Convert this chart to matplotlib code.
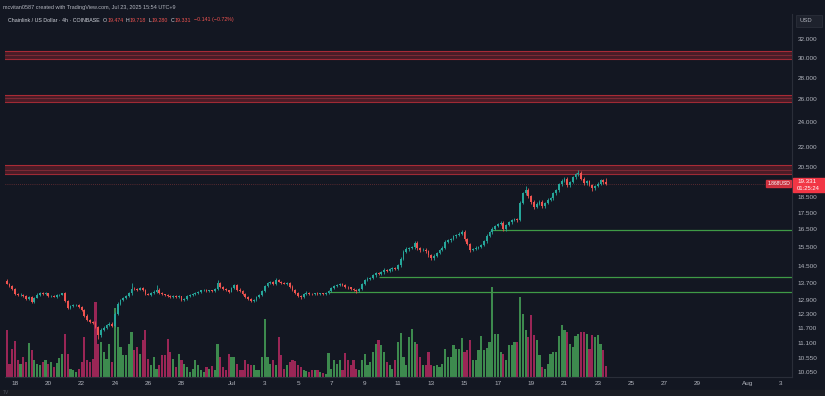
import matplotlib
matplotlib.use("Agg")
import matplotlib.pyplot as plt
import matplotlib.dates as mdates
from matplotlib.patches import Rectangle
from matplotlib.ticker import FixedLocator, NullLocator, NullFormatter
import numpy as np
import pandas as pd

# ---- data (LINK/USD, 4h candles) ----
first_open = 13.78
closes = [
    13.66, 13.55, 13.40, 13.18, 13.12, 13.15, 13.08, 12.95, 13.02, 12.80,
    13.00, 13.15, 13.22, 13.18, 13.20, 13.07, 13.10, 13.05, 13.12, 13.15,
    13.20, 12.85, 12.55, 12.62, 12.66, 12.70, 12.60, 12.45, 12.22, 12.02,
    11.95, 11.92, 11.75, 11.40, 11.62, 11.72, 11.82, 11.88, 11.80, 12.30,
    12.72, 12.88, 12.98, 13.08, 13.20, 13.42, 13.40, 13.38, 13.45, 13.35,
    13.18, 13.15, 13.20, 13.28, 13.38, 13.22, 13.16, 13.12, 13.08, 13.05,
    13.10, 13.04, 13.06, 12.90, 12.95, 13.08, 13.13, 13.18, 13.22, 13.26,
    13.34, 13.36, 13.30, 13.34, 13.32, 13.40, 13.70, 13.52, 13.42, 13.34,
    13.28, 13.45, 13.60, 13.38, 13.30, 13.18, 13.05, 12.95, 12.86, 12.92,
    13.02, 13.12, 13.30, 13.55, 13.68, 13.74, 13.64, 13.84, 13.76, 13.70,
    13.66, 13.68, 13.52, 13.36, 13.22, 13.10, 13.02, 13.16, 13.23, 13.19,
    13.17, 13.20, 13.16, 13.20, 13.17, 13.22, 13.30, 13.45, 13.56, 13.60,
    13.64, 13.60, 13.52, 13.48, 13.42, 13.36, 13.30, 13.40, 13.65, 13.82,
    13.90, 13.95, 14.06, 14.15, 14.12, 14.20, 14.32, 14.28, 14.35, 14.42,
    14.38, 14.55, 14.90, 15.25, 15.40, 15.46, 15.50, 15.72, 15.45, 15.35,
    15.38, 15.30, 15.10, 14.92, 15.05, 15.20, 15.35, 15.48, 15.80, 15.88,
    15.95, 16.10, 16.20, 16.26, 16.36, 15.95, 15.70, 15.36, 15.40, 15.48,
    15.52, 15.62, 15.84, 16.12, 16.35, 16.52, 16.70, 16.80, 16.88, 16.50,
    16.75, 16.92, 17.05, 17.10, 17.05, 18.10, 18.70, 18.95, 18.55, 18.15,
    17.85, 18.05, 18.18, 17.88, 18.10, 18.30, 18.40, 18.70, 18.92, 19.30,
    19.55, 19.70, 19.25, 19.48, 19.80, 19.98, 20.08, 19.70, 19.38, 19.50,
    19.26, 19.05, 19.20, 19.35, 19.58, 19.474, 19.331,
]
wick_up = [
    .10, .04, .05, .03, .04, .05, .03, .04, .05, .06,
    .04, .05, .04, .03, .05, .04, .03, .04, .05, .03,
    .04, .05, .06, .04, .05, .04, .03, .05, .04, .06,
    .05, .04, .06, .05, .08, .05, .04, .06, .05, .06,
    .08, .06, .05, .04, .06, .25, .08, .05, .06, .04,
    .05, .04, .05, .06, .20, .05, .04, .03, .04, .05,
    .04, .03, .05, .04, .05, .04, .03, .05, .04, .03,
    .04, .03, .05, .04, .03, .05, .12, .06, .04, .05,
    .04, .05, .06, .04, .05, .04, .03, .04, .05, .04,
    .05, .04, .06, .05, .06, .05, .04, .10, .06, .04,
    .05, .06, .04, .05, .04, .03, .04, .05, .06, .04,
    .03, .04, .05, .03, .04, .05, .04, .06, .05, .04,
    .05, .04, .05, .04, .03, .05, .04, .05, .06, .05,
    .06, .05, .07, .06, .05, .06, .08, .05, .06, .07,
    .06, .08, .10, .08, .10, .07, .08, .12, .10, .06,
    .08, .07, .06, .05, .07, .06, .08, .07, .10, .08,
    .07, .08, .06, .07, .08, .10, .08, .06, .07, .08,
    .06, .08, .07, .09, .08, .10, .08, .07, .10, .08,
    .07, .08, .06, .08, .07, .10, .12, .22, .10, .08,
    .10, .08, .09, .07, .08, .10, .09, .08, .10, .12,
    .10, .12, .10, .08, .10, .09, .20, .12, .10, .08,
    .10, .08, .09, .10, .12, .11, .244,
]
wick_dn = [
    .03, .05, .04, .05, .04, .03, .05, .04, .06, .05,
    .04, .03, .05, .04, .03, .05, .04, .03, .04, .05,
    .03, .05, .06, .04, .05, .03, .05, .04, .06, .05,
    .04, .06, .05, .12, .06, .05, .04, .05, .06, .04,
    .05, .06, .04, .05, .04, .05, .06, .05, .04, .06,
    .05, .04, .05, .04, .06, .05, .04, .05, .04, .05,
    .04, .05, .03, .06, .04, .05, .04, .03, .04, .05,
    .04, .05, .03, .04, .05, .04, .05, .06, .04, .05,
    .04, .03, .05, .06, .04, .05, .04, .05, .06, .04,
    .05, .04, .05, .04, .05, .04, .06, .05, .04, .05,
    .04, .05, .06, .05, .04, .05, .06, .04, .05, .04,
    .05, .04, .03, .05, .04, .03, .05, .04, .05, .04,
    .05, .04, .05, .06, .04, .05, .06, .04, .05, .06,
    .05, .06, .05, .07, .06, .05, .06, .07, .05, .06,
    .07, .06, .08, .07, .06, .08, .07, .08, .10, .08,
    .07, .08, .09, .10, .07, .08, .06, .07, .08, .07,
    .08, .06, .07, .08, .06, .09, .10, .12, .08, .07,
    .08, .07, .06, .08, .07, .09, .08, .07, .06, .12,
    .08, .07, .09, .08, .10, .08, .10, .09, .12, .10,
    .14, .10, .09, .12, .10, .08, .10, .09, .08, .10,
    .10, .09, .12, .10, .09, .10, .11, .12, .10, .12,
    .10, .20, .10, .09, .10, .12, .051,
]
volumes = [
    47, 13, 28, 36, 17, 13, 20, 15, 34, 27,
    17, 13, 12, 15, 17, 13, 15, 10, 14, 19,
    23, 43, 23, 8, 7, 5, 8, 15, 40, 17,
    15, 18, 75, 33, 35, 25, 18, 33, 15, 69,
    50, 30, 22, 22, 33, 45, 27, 30, 23, 37,
    47, 18, 12, 20, 8, 12, 22, 22, 38, 25,
    18, 10, 23, 17, 13, 10, 5, 8, 17, 12,
    7, 5, 10, 8, 11, 7, 33, 20, 10, 7,
    23, 20, 20, 13, 7, 7, 17, 13, 12, 12,
    7, 7, 20, 58, 20, 13, 17, 12, 40, 22,
    8, 12, 15, 17, 16, 12, 10, 7, 6, 5,
    7, 7, 7, 5, 4, 3, 24, 8, 17, 13,
    17, 7, 24, 17, 12, 17, 8, 7, 17, 23,
    12, 15, 25, 33, 37, 32, 25, 15, 12, 8,
    17, 35, 44, 20, 12, 40, 48, 35, 33, 20,
    12, 12, 25, 12, 11, 12, 10, 13, 28, 20,
    20, 32, 28, 28, 39, 25, 27, 37, 17, 17,
    27, 41, 27, 29, 35, 90, 43, 43, 25, 23,
    17, 32, 32, 35, 35, 80, 63, 47, 40, 62,
    42, 37, 22, 10, 8, 13, 23, 25, 25, 41,
    52, 47, 45, 33, 30, 41, 43, 45, 45, 43,
    28, 42, 40, 42, 33, 27, 11,
]
start_time = "2025-06-17 12:00"

# drawn levels: (low, high) resistance boxes, (price, start) support lines
red_zones = [(29.85, 30.75), (25.70, 26.40), (20.02, 20.62)]
green_levels = [(16.45, "2025-07-16 16:00"), (13.99, "2025-07-09 20:00"), (13.27, "2025-07-06 20:00")]
price_ticks = [32.0, 30.0, 28.0, 26.0, 24.0, 22.0, 20.5, 18.5, 17.5, 16.5,
               15.5, 14.5, 13.7, 12.9, 12.3, 11.7, 11.1, 10.55, 10.05]
date_ticks = ["2025-06-18", "2025-06-20", "2025-06-22", "2025-06-24", "2025-06-26",
              "2025-06-28", "2025-07-01", "2025-07-03", "2025-07-05", "2025-07-07",
              "2025-07-09", "2025-07-11", "2025-07-13", "2025-07-15", "2025-07-17",
              "2025-07-19", "2025-07-21", "2025-07-23", "2025-07-25", "2025-07-27",
              "2025-07-29", "2025-08-01", "2025-08-03"]
date_labels = ["18", "20", "22", "24", "26", "28", "Jul", "3", "5", "7", "9", "11",
               "13", "15", "17", "19", "21", "23", "25", "27", "29", "Aug", "3"]

BG = "#131722"
TXT = "#b2b5be"
UP, DOWN = "#26a69a", "#ef5350"
VOL_UP, VOL_DOWN = "#3d8a4e", "#9a2656"
GRIDLINE = "#2a2e39"

plt.rcParams["font.family"] = ["Liberation Sans", "DejaVu Sans"]

closes = np.array(closes)
opens = np.concatenate([[first_open], closes[:-1]])
highs = np.maximum(opens, closes) + np.array(wick_up)
lows = np.minimum(opens, closes) - np.array(wick_dn)
times = pd.date_range(start_time, periods=len(closes), freq="4h")
x = mdates.date2num(times)
up = closes >= opens

W, H = 825, 396
fig = plt.figure(figsize=(W / 100, H / 100), dpi=100, facecolor=BG)
rect = [5 / W, (H - 377) / H, (792 - 5) / W, (377 - 14) / H]
ax_vol = fig.add_axes(rect, facecolor=BG)
ax = fig.add_axes(rect, sharex=ax_vol)
ax.patch.set_visible(False)

# volume pane
ax_vol.bar(x, volumes, width=0.13, color=np.where(up, VOL_UP, VOL_DOWN), linewidth=0)
ax_vol.set_ylim(0, 363)
ax_vol.set_yticks([])
for s in ax_vol.spines.values():
    s.set_visible(False)

# candles
ax.set_yscale("log")
ax.vlines(x, lows, highs, colors=np.where(up, UP, DOWN), linewidth=0.6, zorder=3)
body_lo = np.minimum(opens, closes)
body_h = np.maximum(np.abs(closes - opens), 0.01)
ax.bar(x, body_h, bottom=body_lo, width=0.11, color=np.where(up, UP, DOWN),
       linewidth=0, zorder=4)

xmin = mdates.date2num(pd.Timestamp("2025-06-17 09:36"))
xmax = mdates.date2num(pd.Timestamp("2025-08-03 16:00"))

# resistance zones
for lo, hi in red_zones:
    ax.axhspan(lo, hi, color="#b22833", alpha=0.35, linewidth=0, zorder=1)
    ax.axhline(lo, color="#c3303b", linewidth=0.8, alpha=0.8, zorder=1)
    ax.axhline(hi, color="#c3303b", linewidth=0.8, alpha=0.8, zorder=1)
    ax.axhline((lo * hi) ** 0.5, color="#d8444e", linewidth=0.5, alpha=0.5, zorder=1)

# support lines
for level, start in green_levels:
    ax.hlines(level, mdates.date2num(pd.Timestamp(start)), xmax, color="#3f9a46",
              linewidth=0.9, zorder=2)

# last price dotted line
last = closes[-1]
ax.axhline(last, color=DOWN, linewidth=0.5, linestyle=(0, (1, 2)), alpha=0.6, zorder=2)

ax.set_xlim(xmin, xmax)
ax.set_ylim(9.865, 34.95)
ax.yaxis.set_major_locator(FixedLocator(price_ticks))
ax.yaxis.set_minor_locator(NullLocator())
ax.yaxis.set_minor_formatter(NullFormatter())
ax.set_yticklabels([f"{p:.3f}" for p in price_ticks])
ax.yaxis.tick_right()
ax.tick_params(axis="y", length=0, pad=4, labelsize=4.6, labelcolor=TXT)

ax.set_xticks(mdates.date2num(pd.to_datetime(date_ticks)))
ax.set_xticklabels(date_labels)
ax.tick_params(axis="x", length=0, pad=3, labelsize=4.6, labelcolor=TXT)
ax_vol.tick_params(axis="x", length=0, labelbottom=False)

for name, s in ax.spines.items():
    if name in ("right", "bottom"):
        s.set_color(GRIDLINE)
        s.set_linewidth(0.8)
    else:
        s.set_visible(False)

# current price tags
fig.patches.append(Rectangle((793 / W, 1 - 192 / H), 32 / W, 14 / H,
                             transform=fig.transFigure, color="#f23645"))
fig.text(797 / W, 1 - 182 / H, "19.331", fontsize=4.5, color="white", va="center")
fig.text(797 / W, 1 - 188.5 / H, "01:25:24", fontsize=4.2, color="white", va="center")
fig.patches.append(Rectangle((766 / W, 1 - 187 / H), 25 / W, 7 / H,
                             transform=fig.transFigure, color="#f23645", alpha=0.8))
fig.text(768 / W, 1 - 183.5 / H, "1.868USD", fontsize=3.6, color="white", va="center")

# currency box
fig.patches.append(Rectangle((796 / W, 1 - 27 / H), 26 / W, 12 / H,
                             transform=fig.transFigure, facecolor="#1e222d",
                             edgecolor="#2a2e39", linewidth=0.6))
fig.text(799 / W, 1 - 21 / H, "USD", fontsize=4.2, color=TXT, va="center")

# bottom strip
fig.patches.append(Rectangle((0, 0), 1, 6 / H, transform=fig.transFigure,
                             color="#1c1e24"))
fig.text(3 / W, 3 / H, "TV", fontsize=3.5, color="#50535e", va="center")

# header texts
fig.text(3 / W, 1 - 7 / H, "mcvitan0587 created with TradingView.com, Jul 23, 2025 15:54 UTC+9",
         fontsize=4.0, color=TXT, va="center")

# symbol line, laid out piece by piece
renderer = fig.canvas.get_renderer()
pieces = [("Chainlink / US Dollar \u00b7 4h \u00b7 COINBASE", "#d1d4dc", 3.0),
          ("O", "#d1d4dc", 0.3), ("19.474", DOWN, 2.5),
          ("H", "#d1d4dc", 0.3), ("19.718", DOWN, 2.5),
          ("L", "#d1d4dc", 0.3), ("19.280", DOWN, 2.5),
          ("C", "#d1d4dc", 0.3), ("19.331", DOWN, 2.5),
          ("\u22120.141 (\u22120.72%)", DOWN, 0)]
xpos = 8.0
for text, color, gap in pieces:
    t = fig.text(xpos / W, 1 - 20 / H, text, fontsize=3.8, color=color, va="center")
    bb = t.get_window_extent(renderer)
    xpos += bb.width * 100 / fig.dpi + gap

fig.savefig("out.png", dpi=100, facecolor=BG)
